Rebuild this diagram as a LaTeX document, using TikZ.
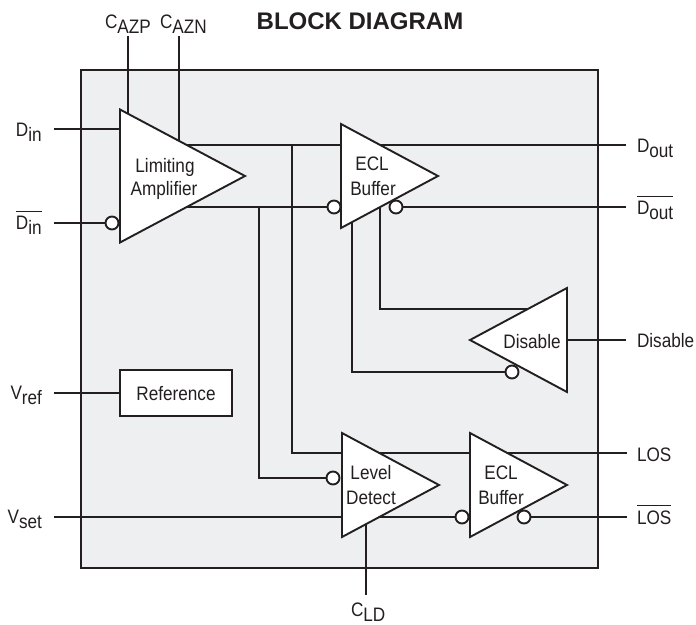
\documentclass[tikz,border=0pt]{standalone}
\usepackage{fontspec}
\setmainfont{Liberation Sans}
\newfontfamily\lblfont[FakeStretch=0.88]{Liberation Sans}
\usetikzlibrary{shapes.geometric}
\pgfdeclarelayer{panel}
\pgfdeclarelayer{wires}
\pgfsetlayers{panel,wires,main}
\newcommand{\lowsub}[1]{\lower5pt\hbox{#1}}
\newcommand{\barred}[1]{\vbox{\hrule height 1pt \kern 4pt \hbox{#1}}}
\definecolor{ink}{HTML}{231F20}
\definecolor{panelgrey}{HTML}{EEEFF1}
\tikzset{
  wire/.style={draw=ink,line width=1.9pt,line join=miter},
  amptri/.style={isosceles triangle,isosceles triangle stretches,draw=ink,fill=white,line width=1.9pt,inner sep=0pt,outer sep=0pt,anchor=apex,miter limit=10},
  rtri/.style={amptri,minimum height=97pt,minimum width=104pt},
  ltri/.style={rtri,shape border rotate=180},
  bub/.style={circle,draw=ink,fill=white,line width=1.9pt,minimum size=13pt,inner sep=0pt,outer sep=0pt},
  lbl/.style={anchor=base west,inner sep=0pt,outer sep=0pt,text=ink,font=\fontsize{19.5pt}{21pt}\lblfont},
  ctr/.style={lbl,anchor=base},
  rlbl/.style={lbl,anchor=base east}
}
\begin{document}
\begin{tikzpicture}[x=1pt,y=-1pt]
\useasboundingbox (0,0) rectangle (696,624);
\begin{pgfonlayer}{panel}
\node[draw=ink,fill=panelgrey,line width=1.9pt,minimum width=517pt,minimum height=498pt,inner sep=0pt,outer sep=0pt,anchor=north west] (chip) at (81,70) {};
\end{pgfonlayer}
% amplifiers
\node[amptri,minimum height=125pt,minimum width=133pt] (amp) at (245,176) {};
\node[rtri] (eclA) at (438,176) {};
\node[ltri] (dis) at (470,340) {};
\node[rtri] (lvl) at (439,485) {};
\node[rtri] (eclB) at (567,485) {};
\node[draw=ink,fill=white,line width=1.9pt,minimum width=112pt,minimum height=46pt,inner sep=0pt,outer sep=0pt] (ref) at (176,393) {};
% bubbles
\node[bub] (bAmp) at (112,223) {};
\node[bub] (bEclAin) at (334,207) {};
\node[bub] (bEclAout) at (396,207) {};
\node[bub] (bDis) at (512,372) {};
\node[bub] (bLvl) at (333,478) {};
\node[bub] (bEclBin) at (462,517) {};
\node[bub] (bEclBout) at (524,517) {};
% inner texts
\node[ctr] (t1) at (165,172) {Limiting};
\node[ctr] (t2) at (164,195) {Amplifier};
\node[ctr] (t3) at (372,170) {ECL};
\node[ctr] (t4) at (373,195) {Buffer};
\node[ctr] (t5) at (532,348) {Disable};
\node[ctr] (t6) at (371,479) {Level};
\node[ctr] (t7) at (371,504) {Detect};
\node[ctr] (t8) at (501,479) {ECL};
\node[ctr] (t9) at (501,504) {Buffer};
\node[ctr] (t10) at (176,400) {Reference};
% outer labels
\node[anchor=base,inner sep=0pt,text=ink,font=\fontsize{24pt}{25pt}\bfseries] (title) at (360,29) {BLOCK DIAGRAM};
\node[lbl] (lDin) at (16,136) {D\lowsub{in}};
\node[lbl] (lDinb) at (16,229) {\barred{D\lowsub{in}}};
\node[lbl] (lCazp) at (105,28) {C\lowsub{AZP}};
\node[lbl] (lCazn) at (160,28) {C\lowsub{AZN}};
\node[lbl] (lDout) at (637,152) {D\lowsub{out}};
\node[lbl] (lDoutb) at (637,214) {\barred{D\lowsub{out}}};
\node[lbl] (lDis) at (637,347) {Disable};
\node[rlbl] (lVref) at (42,399) {V\lowsub{ref}};
\node[rlbl] (lVset) at (42,523) {V\lowsub{set}};
\node[lbl] (lLos) at (637,461) {LOS};
\node[lbl] (lLosb) at (637,524) {\barred{LOS}};
\node[lbl] (lCld) at (351,616) {C\lowsub{LD}};
% free ends
\coordinate (eDin) at (54,129);
\coordinate (eDinb) at (54,223);
\coordinate (eCazp) at (128,36);
\coordinate (eCazn) at (179,36);
\coordinate (eDout) at (626,145);
\coordinate (eDoutb) at (626,207);
\coordinate (eDis) at (626,340);
\coordinate (eVref) at (54,393);
\coordinate (eVset) at (54,517);
\coordinate (eLos) at (627,453);
\coordinate (eLosb) at (627,517);
\coordinate (eCld) at (366,595);
% ports
\coordinate (pDin) at (125,129);
\coordinate (pCazp) at (128,120);
\coordinate (pCazn) at (179,150);
\coordinate (aTop) at (180,145);
\coordinate (aBot) at (180,207);
\coordinate (eAtopIn) at (345,145);
\coordinate (eAtopOut) at (376,145);
\coordinate (jA) at (292,145);
\coordinate (jB) at (259,207);
\coordinate (lvlTop) at (345,453);
\coordinate (lvlOutT) at (375,453);
\coordinate (eclBT) at (473,453);
\coordinate (eclBOut) at (503,453);
\coordinate (lvlOutB) at (375,517);
\coordinate (lvlIn) at (345,517);
\coordinate (dTop) at (535,309);
\coordinate (ePortA) at (380,200);
\coordinate (ePortB) at (352,215);
\coordinate (lvlC) at (366,515);
\begin{pgfonlayer}{wires}
\draw[wire] (eDin) -- (pDin);
\draw[wire] (eDinb) -- (bAmp);
\draw[wire] (eCazp) -- (pCazp);
\draw[wire] (eCazn) -- (pCazn);
\draw[wire] (aTop) -- (eAtopIn);
\draw[wire] (aBot) -- (bEclAin);
\draw[wire] (jA) |- (lvlTop);
\draw[wire] (jB) |- (bLvl);
\draw[wire] (eAtopOut) -- (eDout);
\draw[wire] (bEclAout) -- (eDoutb);
\draw[wire] (ePortA) |- (dTop);
\draw[wire] (ePortB) |- (bDis);
\draw[wire] (dis.center) -- (eDis);
\draw[wire] (eVref) -- (ref);
\draw[wire] (eVset) -- (lvlIn);
\draw[wire] (lvlOutT) -- (eclBT);
\draw[wire] (eclBOut) -- (eLos);
\draw[wire] (lvlOutB) -- (bEclBin);
\draw[wire] (bEclBout) -- (eLosb);
\draw[wire] (lvlC) -- (eCld);
\end{pgfonlayer}
\end{tikzpicture}
\end{document}
